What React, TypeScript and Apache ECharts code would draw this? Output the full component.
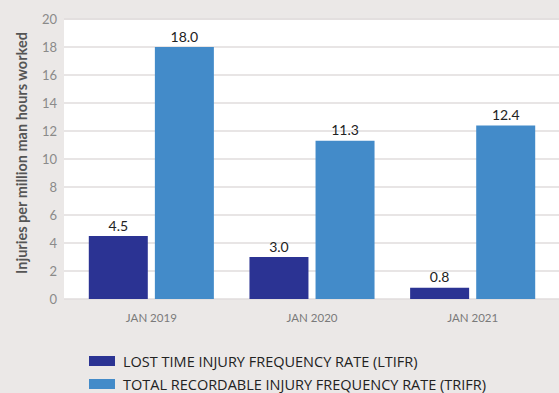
import React, { useEffect, useRef } from "react";
import * as echarts from "echarts";

const categories = ["JAN 2019", "JAN 2020", "JAN 2021"];
const ltifr = [4.5, 3.0, 0.8];
const trifr = [18.0, 11.3, 12.4];
const seriesNames = [
  "LOST TIME INJURY FREQUENCY RATE (LTIFR)",
  "TOTAL RECORDABLE INJURY FREQUENCY RATE (TRIFR)",
];
const yAxisTitle = "Injuries per million man hours worked";

const FONT = "Lato, 'Open Sans', sans-serif";

export default function App() {
  const ref = useRef<HTMLDivElement>(null);
  useEffect(() => {
    if (!ref.current) return;
    const chart = echarts.init(ref.current, undefined, { renderer: "svg" });
    const labelStyle = {
      show: true,
      position: "top" as const,
      distance: 4,
      color: "#222",
      fontSize: 14,
      fontFamily: FONT,
      formatter: (p: any) => Number(p.value).toFixed(1),
    };
    const legendBase = {
      orient: "vertical" as const,
      left: 89,
      itemWidth: 26,
      itemHeight: 10,
      icon: "rect",
      padding: 0,
      textStyle: {
        color: "#222",
        fontSize: 14.5,
        fontFamily: "'Open Sans', sans-serif",
        lineHeight: 16,
        padding: [0, 0, 0, 3],
      },
    };
    chart.setOption({
      animation: false,
      backgroundColor: "#ebe8e7",
      textStyle: { fontFamily: FONT },
      graphic: [
        {
          type: "rect",
          shape: { x: 64, y: 20, width: 495, height: 279 },
          style: { fill: "#ffffff" },
          z: -10,
          silent: true,
        },
      ],
      grid: [
        { left: 64, right: 0, top: 19, height: 280, containLabel: false },
        { left: 71, right: 6, top: 19, height: 280, containLabel: false },
      ],
      xAxis: [
        {
          type: "category",
          gridIndex: 0,
          data: categories,
          show: false,
        },
        {
          type: "category",
          gridIndex: 1,
          data: categories,
          axisLine: { show: false },
          axisTick: { show: false },
          axisLabel: { color: "#7a7a7a", fontSize: 11.5, margin: 12, fontFamily: FONT },
        },
      ],
      yAxis: [
        {
          type: "value",
          gridIndex: 0,
          min: 0,
          max: 20,
          interval: 2,
          name: yAxisTitle,
          nameLocation: "middle",
          nameRotate: 90,
          nameGap: 35,
          nameTextStyle: {
            color: "#555",
            fontSize: 14.5,
            fontWeight: "bold",
            fontFamily: FONT,
            padding: [0, 0, 0, 12],
          },
          axisLine: { show: false },
          axisTick: { show: false },
          axisLabel: { color: "#8a8a8a", fontSize: 13, margin: 7, fontFamily: FONT },
          splitLine: { lineStyle: { color: "#e0dddd", width: 1.5 } },
        },
        {
          type: "value",
          gridIndex: 1,
          min: 0,
          max: 20,
          interval: 2,
          show: false,
          splitLine: { show: false },
        },
      ],
      legend: [
        { ...legendBase, top: 353, data: [seriesNames[0]] },
        { ...legendBase, top: 376, data: [seriesNames[1]] },
      ],
      series: [
        {
          name: seriesNames[0],
          type: "bar",
          xAxisIndex: 1,
          yAxisIndex: 1,
          data: ltifr,
          barWidth: 59,
          barGap: "12%",
          itemStyle: { color: "#2b3393" },
          label: labelStyle,
        },
        {
          name: seriesNames[1],
          type: "bar",
          xAxisIndex: 1,
          yAxisIndex: 1,
          data: trifr,
          barWidth: 59,
          barGap: "12%",
          itemStyle: { color: "#438bc9" },
          label: labelStyle,
        },
      ],
    });
    return () => chart.dispose();
  }, []);
  return <div ref={ref} style={{ width: 559, height: 393, position: "fixed", left: 0, top: 0 }} />;
}
